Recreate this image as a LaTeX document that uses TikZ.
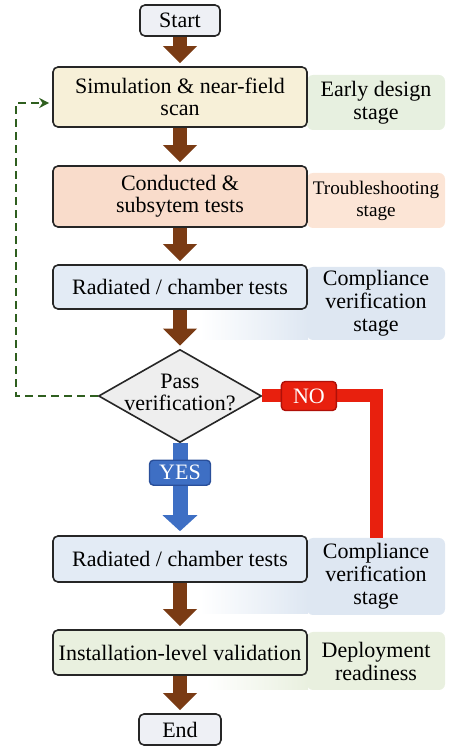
\documentclass[tikz,border=0pt]{standalone}
\usepackage{fontspec}
\setmainfont{Liberation Serif}
\usetikzlibrary{shapes.geometric,arrows.meta}
\definecolor{flowbrown}{HTML}{7A3B14}
\definecolor{endgray}{HTML}{EEF0F5}
\definecolor{simyellow}{HTML}{F7F0D8}
\definecolor{condsalmon}{HTML}{F9DCCB}
\definecolor{radblue}{HTML}{E3EBF5}
\definecolor{instgreen}{HTML}{E9F0DF}
\definecolor{decgray}{HTML}{EEEEEE}
\definecolor{earlygreen}{HTML}{E7F0E0}
\definecolor{troublepeach}{HTML}{FCE5D6}
\definecolor{compblue}{HTML}{DEE7F2}
\definecolor{yesblue}{HTML}{3E6FC4}
\definecolor{yesdark}{HTML}{2A4F9A}
\definecolor{nored}{HTML}{E8200E}
\definecolor{nodark}{HTML}{B01008}
\definecolor{loopgreen}{HTML}{2F5F1F}

\begin{document}
\begin{tikzpicture}[x=10pt,y=10pt,
  font=\fontsize{11}{11}\selectfont,
  stepbox/.style={draw=black!85, line width=0.8pt, rounded corners=2.5pt,
    minimum width=127pt, align=center, inner sep=2pt},
  endbox/.style={stepbox, minimum width=40pt, minimum height=15.5pt, fill=endgray},
  stagebox/.style={rounded corners=3pt, minimum width=69pt, align=center,
    inner sep=1pt, font=\fontsize{11}{11.5}\selectfont},
  decbox/.style={diamond, draw=black!85, line width=0.8pt, fill=decgray,
    minimum width=81.5pt, minimum height=46.5pt, inner sep=0pt},
  flow/.style={draw=flowbrown, line width=7pt,
    -{Triangle[width=16.5pt,length=8.5pt]}, shorten >=1.5pt},
  yespath/.style={draw=yesblue, line width=7.5pt,
    -{Triangle[width=17pt,length=8pt]}, shorten >=2pt},
  nopath/.style={draw=nored, line width=6.5pt},
  yesbox/.style={fill=yesblue, draw=yesdark, line width=0.7pt, rounded corners=2pt,
    text=white, minimum width=30.5pt, minimum height=12.5pt, inner sep=0pt,
    font=\fontsize{11}{11}\selectfont},
  nobox/.style={fill=nored, draw=nodark, line width=0.7pt, rounded corners=2pt,
    text=white, minimum width=27.5pt, minimum height=14.5pt, inner sep=0pt,
    font=\fontsize{11}{11}\selectfont},
  backloop/.style={draw=loopgreen, line width=1pt, dash pattern=on 4pt off 2.5pt,
    -{Stealth[length=5pt,width=5pt]}, shorten >=1.5pt}]
\useasboundingbox (0,0) rectangle (22.8,37.3);

% Stage labels on the right (drawn first, boxes sit on top)
\shade[left color=white, right color=compblue] (10,20.3) rectangle (15.4,21.9);
\shade[left color=white, right color=compblue] (10,6.6) rectangle (15.4,8.7);
\shade[left color=white, right color=instgreen] (10.3,2.8) rectangle (15.4,3.6);
\node[stagebox, fill=earlygreen, minimum height=27.5pt] (early) at (18.8,32.175) {Early design\\stage};
\node[stagebox, fill=troublepeach, minimum height=27.5pt, font=\fontsize{9.6}{11}\selectfont] (trouble) at (18.8,27.275) {Troubleshooting\\stage};
\node[stagebox, fill=compblue, minimum height=36.5pt] (comp1) at (18.8,22.125) {Compliance\\verification\\stage};
\node[stagebox, fill=compblue, minimum height=38.5pt] (comp2) at (18.8,8.475) {Compliance\\verification\\stage};
\node[stagebox, fill=instgreen, minimum height=29pt] (deploy) at (18.8,4.25) {Deployment\\readiness};

% Main flow boxes
\node[endbox] (start) at (9,36.275) {Start};
\node[stepbox, fill=simyellow, minimum height=30pt] (sim) at (9,32.45) {Simulation \& near-field\\scan};
\node[stepbox, fill=condsalmon, minimum height=30.5pt] (cond) at (9,27.475) {Conducted \&\\subsytem tests};
\node[stepbox, fill=radblue, minimum height=22pt] (rad1) at (9,22.95) {Radiated / chamber tests};
\node[decbox] (dec) at (9,17.5) {};
\node[align=center] (dectext) at ([yshift=2pt]dec.center) {Pass\\verification?};
\node[stepbox, fill=radblue, minimum height=23pt] (rad2) at (9,9.35) {Radiated / chamber tests};
\node[stepbox, fill=instgreen, minimum height=22.5pt] (inst) at (9,4.675) {Installation-level validation};
\node[endbox, minimum width=41pt] (end) at (9,0.825) {End};

% Brown flow arrows
\draw[flow] (start.south) -- (sim.north);
\draw[flow] (sim.south) -- (cond.north);
\draw[flow] (cond.south) -- (rad1.north);
\draw[flow] (rad1.south) -- (dec.north);
\draw[flow] (rad2.south) -- (inst.north);
\draw[flow] (inst.south) -- (end.north);

% Decision branches
\draw[yespath] (dec.south) -- node[yesbox, pos=0.32] (yes) {YES} (rad2.north);
\draw[nopath] (dec.east) -| node[nobox, pos=0.205] (no) {NO} (comp2.north);

% Dashed loop back to the start of the design
\coordinate (back) at (0.8,32.15);
\draw[backloop] (dec.west) -| (back) -- (back -| sim.west);
\end{tikzpicture}
\end{document}
